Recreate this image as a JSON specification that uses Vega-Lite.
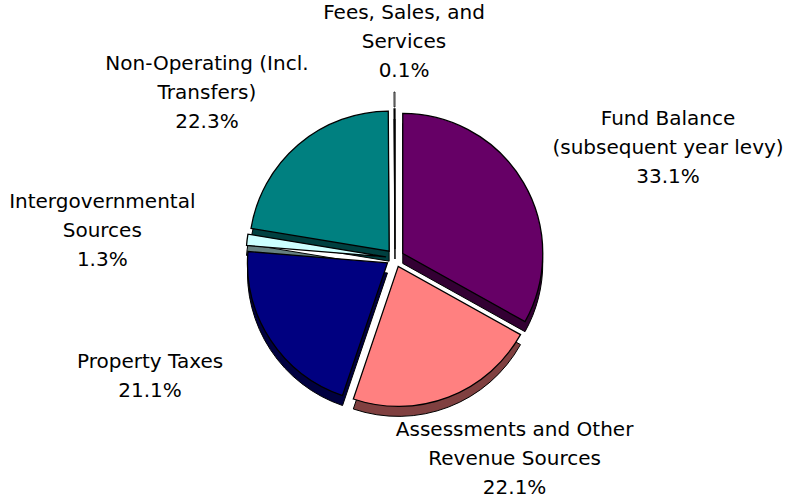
{
  "$schema": "https://vega.github.io/schema/vega-lite/v6.json",
  "width": 804,
  "height": 498,
  "autosize": {"type": "fit", "contains": "padding"},
  "padding": 0,
  "background": "white",
  "config": {"view": {"stroke": null}, "font": "DejaVu Sans"},
  "data": {
    "values": [
      {"idx": 1, "category": "Fund Balance", "label": "Fund Balance\n(subsequent year levy)", "value": 33.1},
      {"idx": 2, "category": "Assessments and Other Revenue Sources", "label": "Assessments and Other\nRevenue Sources", "value": 22.1},
      {"idx": 3, "category": "Property Taxes", "label": "Property Taxes", "value": 21.1},
      {"idx": 4, "category": "Intergovernmental Sources", "label": "Intergovernmental\nSources", "value": 1.3},
      {"idx": 5, "category": "Non-Operating (Incl. Transfers)", "label": "Non-Operating (Incl.\nTransfers)", "value": 22.3},
      {"idx": 6, "category": "Fees, Sales, and Services", "label": "Fees, Sales, and\nServices", "value": 0.1}
    ]
  },
  "transform": [
    {"window": [{"op": "sum", "field": "value", "as": "cum"}], "sort": [{"field": "idx"}], "frame": [null, 0]},
    {"joinaggregate": [{"op": "sum", "field": "value", "as": "total"}]},
    {"calculate": "2*PI*(datum.cum - datum.value/2)/datum.total", "as": "mid"},
    {"calculate": "datum.label + '\\n' + format(datum.value, '.1f') + '%'", "as": "txt"},
    {"calculate": "length(split(datum.txt, '\\n'))", "as": "nlines"}
  ],
  "layer": [
    {
      "mark": {
        "type": "arc",
        "outerRadius": 140,
        "stroke": "black",
        "strokeWidth": 1,
        "x": {"expr": "width/2 - 7 + 9*sin(datum.mid)"},
        "y": {"expr": "height/2 + 10 - 9*cos(datum.mid) + 10"}
      },
      "encoding": {
        "theta": {"field": "value", "type": "quantitative", "stack": true},
        "order": {"field": "idx"},
        "color": {
          "field": "category",
          "type": "nominal",
          "legend": null,
          "scale": {
            "domain": ["Fund Balance", "Assessments and Other Revenue Sources", "Property Taxes", "Intergovernmental Sources", "Non-Operating (Incl. Transfers)", "Fees, Sales, and Services"],
            "range": ["#330033", "#804040", "#000040", "#668080", "#004040", "#808066"]
          }
        }
      }
    },
    {
      "mark": {
        "type": "arc",
        "outerRadius": 140,
        "stroke": "black",
        "strokeWidth": 1.3,
        "x": {"expr": "width/2 - 7 + 9*sin(datum.mid)"},
        "y": {"expr": "height/2 + 10 - 9*cos(datum.mid)"}
      },
      "encoding": {
        "theta": {"field": "value", "type": "quantitative", "stack": true},
        "order": {"field": "idx"},
        "color": {
          "field": "category",
          "type": "nominal",
          "legend": null,
          "scale": {
            "domain": ["Fund Balance", "Assessments and Other Revenue Sources", "Property Taxes", "Intergovernmental Sources", "Non-Operating (Incl. Transfers)", "Fees, Sales, and Services"],
            "range": ["#660066", "#FF8080", "#000080", "#CCFFFF", "#008080", "#FFFFCC"]
          }
        }
      }
    },
    {
      "mark": {
        "type": "arc",
        "innerRadius": 151,
        "outerRadius": 166,
        "fillOpacity": 0,
        "strokeWidth": 0.8,
        "x": {"expr": "width/2 - 7"},
        "y": {"expr": "height/2 + 10"}
      },
      "encoding": {
        "theta": {"field": "value", "type": "quantitative", "stack": true},
        "order": {"field": "idx"},
        "stroke": {"condition": {"test": "datum.idx == 6", "value": "black"}, "value": "transparent"}
      }
    },
    {
      "mark": {
        "type": "text",
        "fontSize": 20,
        "lineHeight": 29,
        "lineBreak": "\n",
        "align": "center",
        "baseline": "top",
        "color": "black",
        "x": {"expr": "width/2 + 3 + 305*sin(datum.mid)"},
        "y": {"expr": "height/2 + 6 - 216*cos(datum.mid) - 14.5*datum.nlines + 8"}
      },
      "encoding": {"text": {"field": "txt"}}
    }
  ],
  "resolve": {"scale": {"color": "independent", "stroke": "independent"}}
}
